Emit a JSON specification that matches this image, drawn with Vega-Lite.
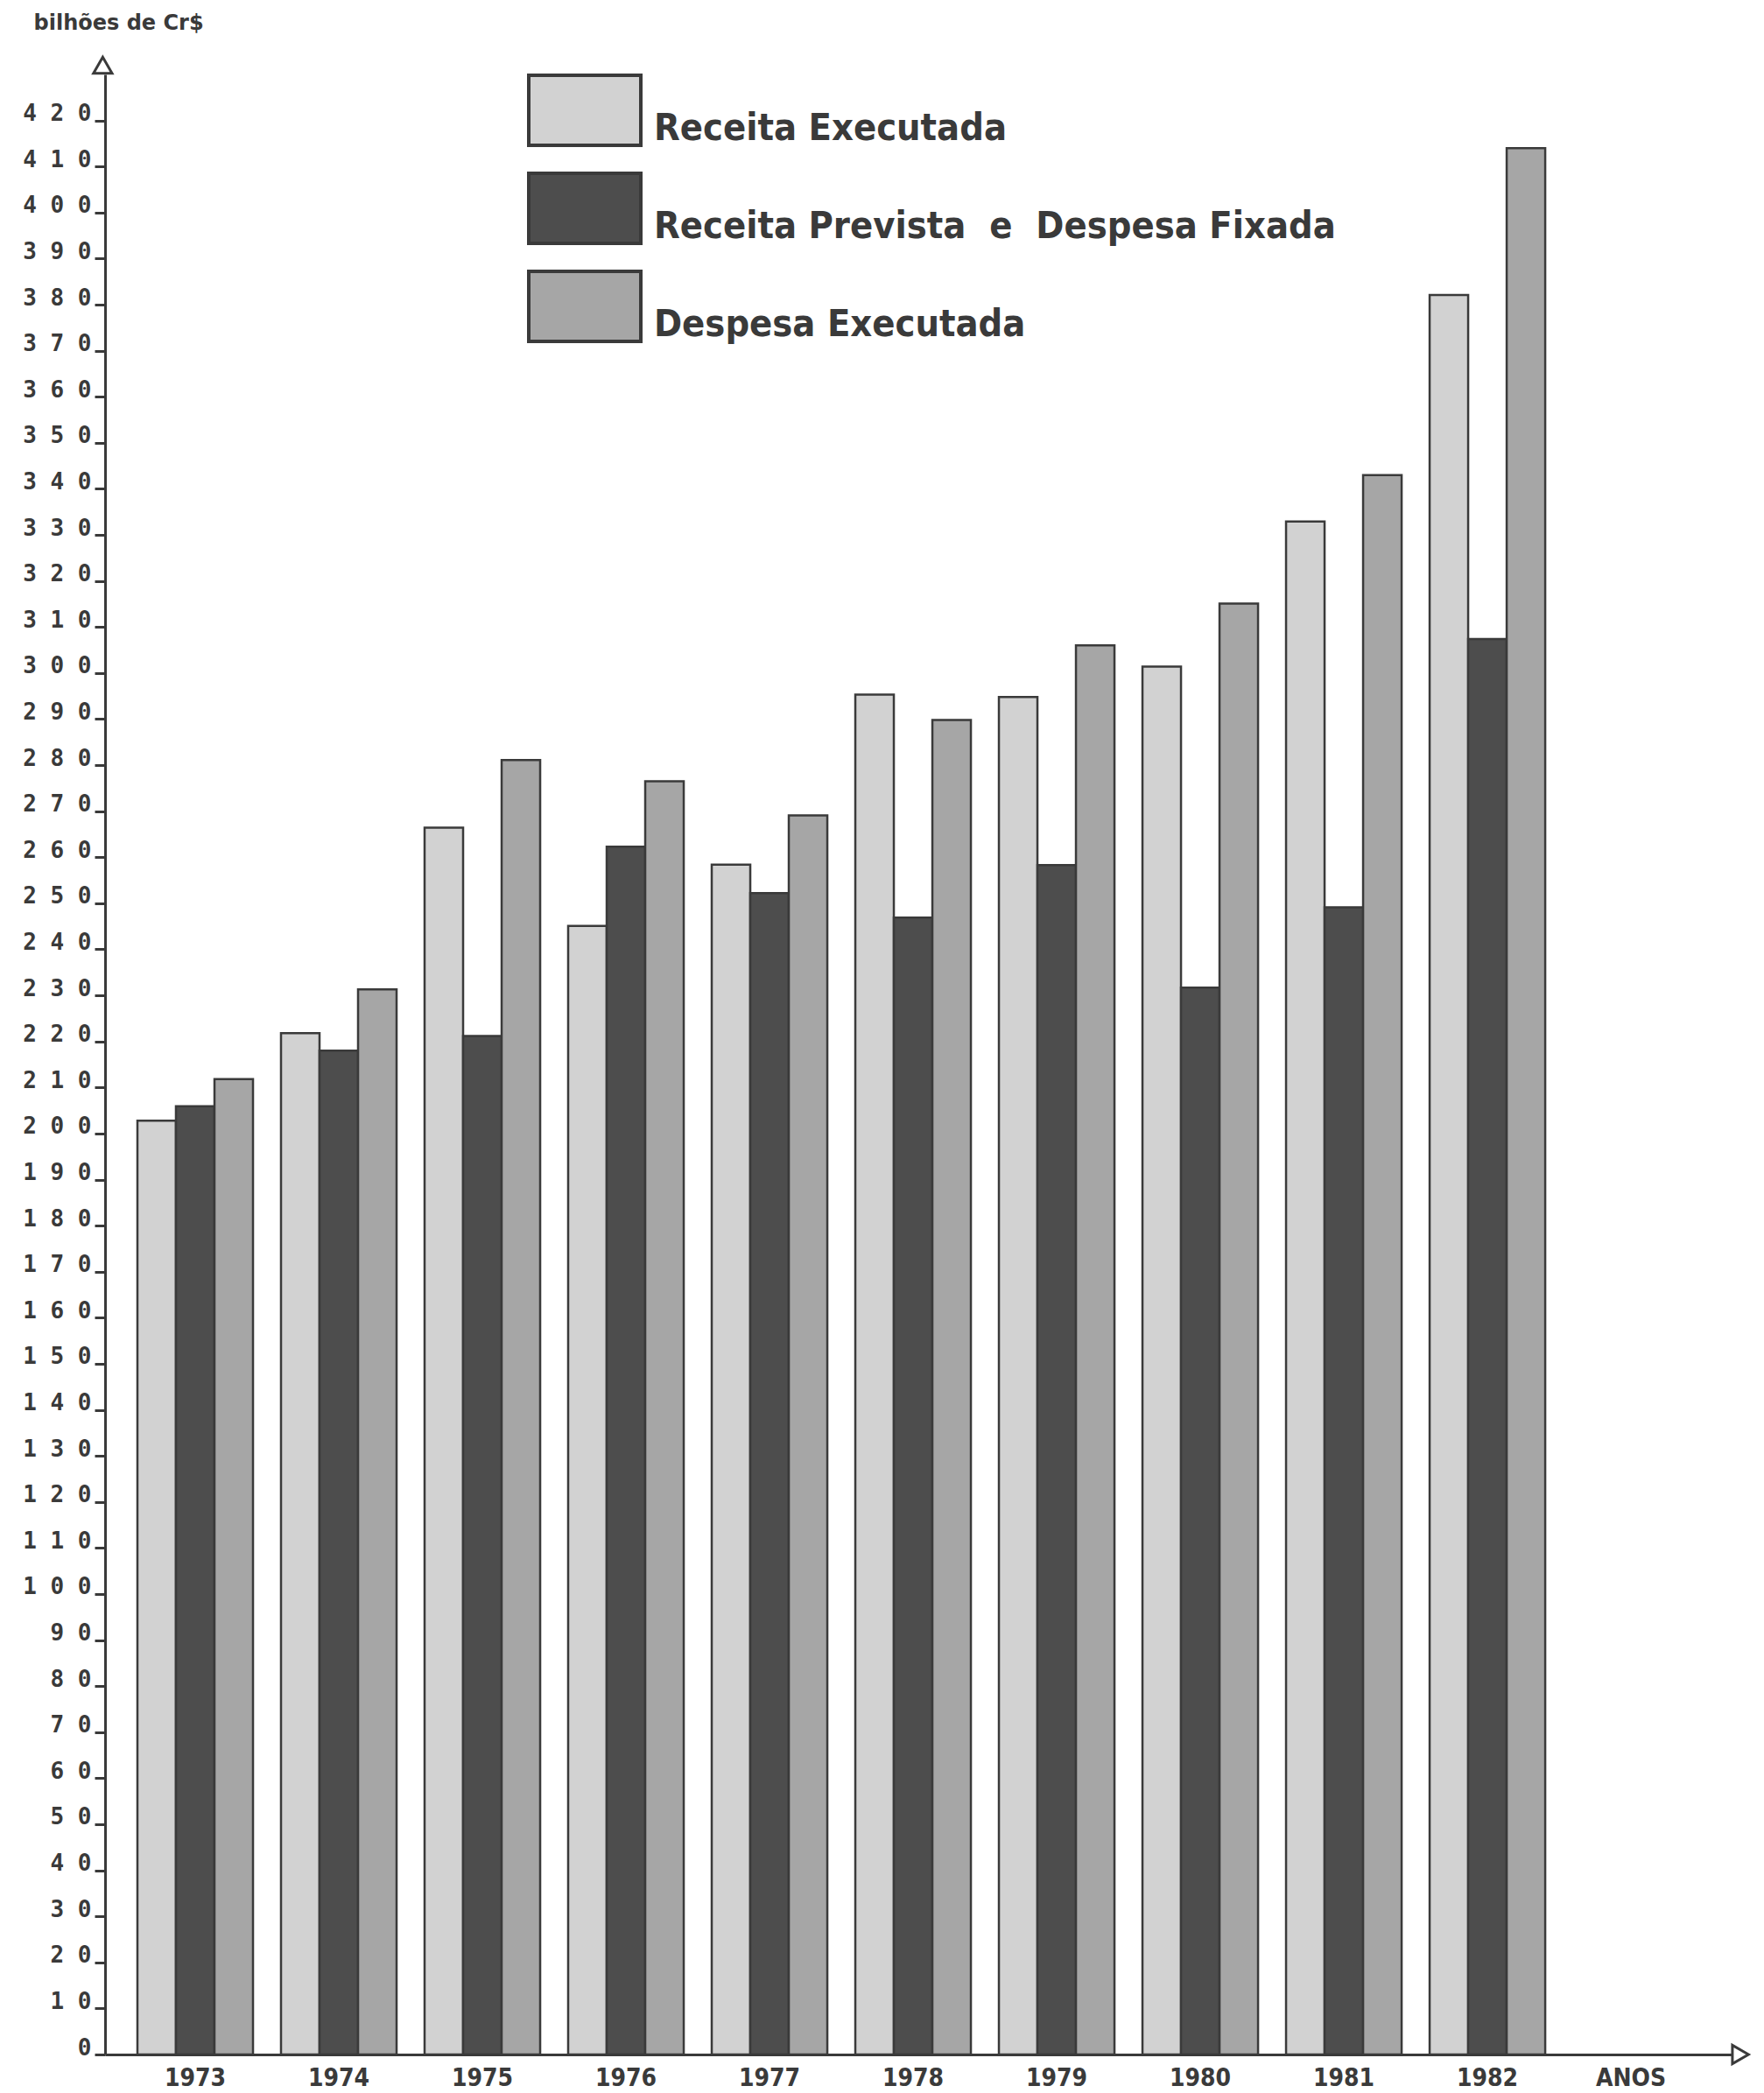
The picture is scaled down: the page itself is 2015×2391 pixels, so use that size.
{
  "$schema": "https://vega.github.io/schema/vega-lite/v6.json",
  "autosize": "none",
  "width": 1861,
  "height": 2262,
  "padding": {"left": 120, "top": 85, "right": 34, "bottom": 44},
  "background": "white",
  "config": {"view": {"stroke": null}},
  "layer": [
    {
      "data": {"values": [
        {"ano": "1973", "serie": "Receita Executada", "valor": 202.8},
        {"ano": "1973", "serie": "Receita Prevista e Despesa Fixada", "valor": 205.9},
        {"ano": "1973", "serie": "Despesa Executada", "valor": 211.8},
        {"ano": "1974", "serie": "Receita Executada", "valor": 221.8},
        {"ano": "1974", "serie": "Receita Prevista e Despesa Fixada", "valor": 218.0},
        {"ano": "1974", "serie": "Despesa Executada", "valor": 231.3},
        {"ano": "1975", "serie": "Receita Executada", "valor": 266.4},
        {"ano": "1975", "serie": "Receita Prevista e Despesa Fixada", "valor": 221.2},
        {"ano": "1975", "serie": "Despesa Executada", "valor": 281.1},
        {"ano": "1976", "serie": "Receita Executada", "valor": 245.1},
        {"ano": "1976", "serie": "Receita Prevista e Despesa Fixada", "valor": 262.3},
        {"ano": "1976", "serie": "Despesa Executada", "valor": 276.5},
        {"ano": "1977", "serie": "Receita Executada", "valor": 258.4},
        {"ano": "1977", "serie": "Receita Prevista e Despesa Fixada", "valor": 252.2},
        {"ano": "1977", "serie": "Despesa Executada", "valor": 269.1},
        {"ano": "1978", "serie": "Receita Executada", "valor": 295.3},
        {"ano": "1978", "serie": "Receita Prevista e Despesa Fixada", "valor": 246.9},
        {"ano": "1978", "serie": "Despesa Executada", "valor": 289.8},
        {"ano": "1979", "serie": "Receita Executada", "valor": 294.8},
        {"ano": "1979", "serie": "Receita Prevista e Despesa Fixada", "valor": 258.3},
        {"ano": "1979", "serie": "Despesa Executada", "valor": 306.0},
        {"ano": "1980", "serie": "Receita Executada", "valor": 301.4},
        {"ano": "1980", "serie": "Receita Prevista e Despesa Fixada", "valor": 231.7},
        {"ano": "1980", "serie": "Despesa Executada", "valor": 315.1},
        {"ano": "1981", "serie": "Receita Executada", "valor": 332.9},
        {"ano": "1981", "serie": "Receita Prevista e Despesa Fixada", "valor": 249.1},
        {"ano": "1981", "serie": "Despesa Executada", "valor": 343.0},
        {"ano": "1982", "serie": "Receita Executada", "valor": 382.1},
        {"ano": "1982", "serie": "Receita Prevista e Despesa Fixada", "valor": 307.4},
        {"ano": "1982", "serie": "Despesa Executada", "valor": 414.0}
      ]},
      "mark": {"type": "bar", "stroke": "#3a3a3a", "strokeWidth": 2.5},
      "encoding": {
        "x": {
          "field": "ano",
          "type": "nominal",
          "scale": {
            "domain": ["1973", "1974", "1975", "1976", "1977", "1978", "1979", "1980", "1981", "1982", "ANOS"],
            "paddingInner": 0.195,
            "paddingOuter": 0.271,
            "align": 0.416
          },
          "axis": {
            "title": null,
            "labelAngle": 0,
            "ticks": false,
            "domainColor": "#3a3a3a",
            "domainWidth": 3,
            "labelFont": "DejaVu Sans Condensed, Liberation Sans Narrow, DejaVu Sans",
            "labelFontSize": 28,
            "labelFontWeight": "bold",
            "labelColor": "#3a3a3a",
            "labelPadding": 13
          }
        },
        "xOffset": {
          "field": "serie",
          "type": "nominal",
          "scale": {
            "domain": ["Receita Executada", "Receita Prevista e Despesa Fixada", "Despesa Executada"],
            "paddingInner": 0,
            "paddingOuter": 0
          }
        },
        "y": {
          "field": "valor",
          "type": "quantitative",
          "scale": {"domain": [0, 430], "nice": false, "zero": true},
          "axis": {
            "values": [0, 10, 20, 30, 40, 50, 60, 70, 80, 90, 100, 110, 120, 130, 140, 150, 160, 170, 180, 190, 200, 210, 220, 230, 240, 250, 260, 270, 280, 290, 300, 310, 320, 330, 340, 350, 360, 370, 380, 390, 400, 410, 420],
            "title": "bilhões de Cr$",
            "titleAngle": 0,
            "titleAlign": "left",
            "titleBaseline": "alphabetic",
            "titleX": -82,
            "titleY": -52,
            "titleFont": "DejaVu Sans",
            "titleFontSize": 24,
            "titleFontWeight": "bold",
            "titleColor": "#3a3a3a",
            "labelExpr": "join(split(datum.label, ''), ' ')",
            "labelFont": "DejaVu Sans Mono",
            "labelFontSize": 26,
            "labelFontWeight": "bold",
            "labelColor": "#3a3a3a",
            "labelBaseline": "alphabetic",
            "labelPadding": 4,
            "labelOverlap": false,
            "labelFlush": false,
            "tickSize": 12,
            "tickWidth": 3,
            "tickColor": "#3a3a3a",
            "domainColor": "#3a3a3a",
            "domainWidth": 3,
            "grid": false
          }
        },
        "color": {
          "field": "serie",
          "type": "nominal",
          "scale": {
            "domain": ["Receita Executada", "Receita Prevista e Despesa Fixada", "Despesa Executada"],
            "range": ["#d2d2d2", "#4d4d4d", "#a6a6a6"]
          },
          "legend": {
            "orient": "none",
            "legendX": 506,
            "legendY": -1,
            "title": null,
            "direction": "vertical",
            "symbolType": "M-1.6,-1H1.6V1H-1.6Z",
            "symbolSize": 6400,
            "symbolStrokeColor": "#3a3a3a",
            "symbolStrokeWidth": 4,
            "symbolOpacity": 1,
            "labelFont": "DejaVu Sans Condensed, Liberation Sans Narrow, DejaVu Sans",
            "labelFontWeight": "bold",
            "labelFontSize": 43,
            "labelColor": "#3a3a3a",
            "labelOffset": 37,
            "labelBaseline": "top",
            "labelLimit": 1200,
            "labelExpr": "datum.label == 'Receita Prevista e Despesa Fixada' ? 'Receita Prevista\u00a0 e\u00a0 Despesa Fixada' : datum.label",
            "rowPadding": 16,
            "padding": 0
          }
        }
      }
    },
    {
      "data": {"values": [{"seta": "y"}]},
      "mark": {"type": "point", "shape": "triangle-up", "filled": true, "fill": "white", "stroke": "#3a3a3a", "strokeWidth": 3, "size": 450, "opacity": 1},
      "encoding": {
        "x": {"datum": "1973", "type": "nominal", "bandPosition": -0.3},
        "y": {"datum": 432, "type": "quantitative"}
      }
    },
    {
      "data": {"values": [{"seta": "x"}]},
      "mark": {"type": "point", "shape": "triangle-right", "filled": true, "fill": "white", "stroke": "#3a3a3a", "strokeWidth": 3, "size": 450, "opacity": 1},
      "encoding": {
        "x": {"datum": "ANOS", "type": "nominal", "bandPosition": 1.447},
        "y": {"datum": 0, "type": "quantitative"}
      }
    }
  ]
}
